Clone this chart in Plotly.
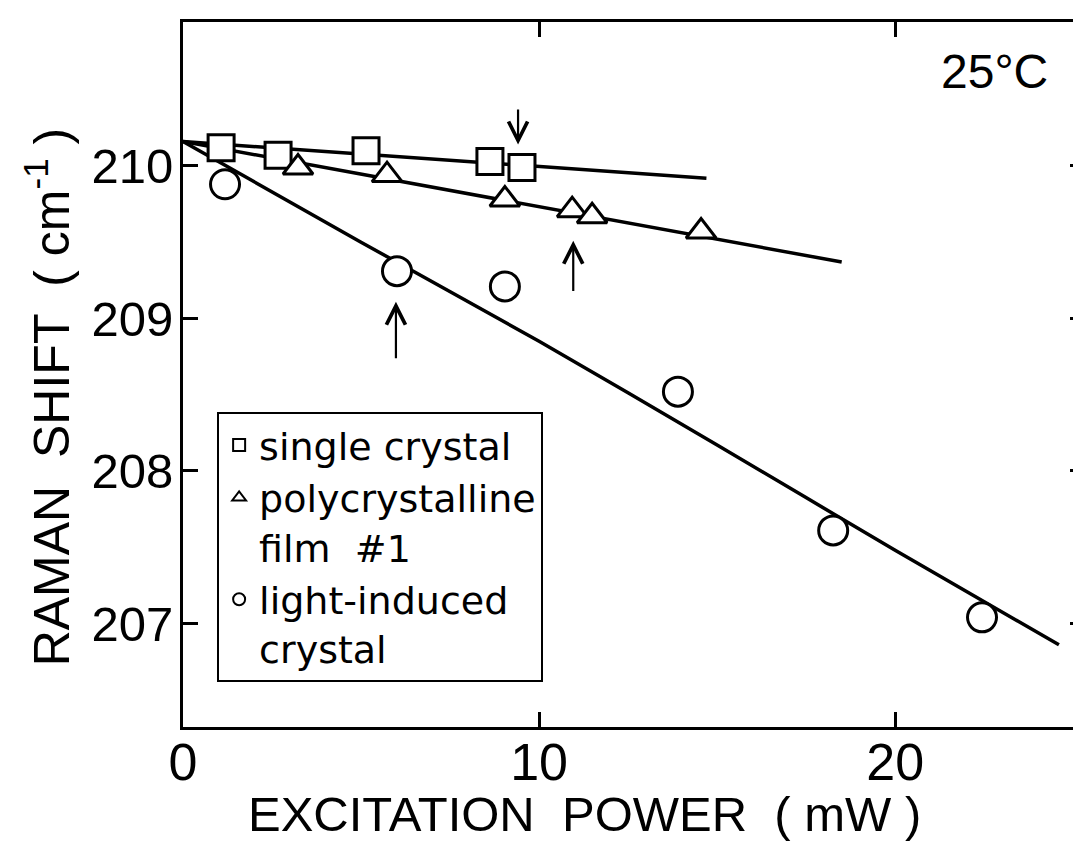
import plotly.graph_objects as go

# excitation power (mW) and Raman shift (cm-1)
single_x = [1.07, 2.67, 5.14, 8.62, 9.52]
single_y = [210.12, 210.07, 210.10, 210.03, 209.99]
poly_x = [3.23, 5.73, 9.04, 10.93, 11.49, 14.55]
poly_y = [209.99, 209.94, 209.78, 209.71, 209.67, 209.57]
light_x = [1.18, 6.01, 9.04, 13.9, 18.26, 22.44]
light_y = [209.88, 209.31, 209.21, 208.52, 207.61, 207.04]

# drawn trend lines
single_fit_x = [0, 14.7]
single_fit_y = [210.16, 209.92]
poly_fit_x = [0, 18.5]
poly_fit_y = [210.16, 209.37]
light_fit_x = [0, 5, 10, 15, 20, 24.6]
light_fit_y = [210.16, 209.50, 208.85, 208.17, 207.48, 206.86]

# arrows marking points (x, tip, tail)
arrow_x = [9.41, 10.96, 5.98]
arrow_tip = [210.14, 209.51, 209.11]
arrow_tail = [210.38, 209.17, 208.73]

x_ticks = [0, 10, 20]
y_ticks = [207, 208, 209, 210]

FONT = "Liberation Sans"
LEG_FONT = "DejaVu Sans"

fig = go.Figure()

for fx, fy in [(single_fit_x, single_fit_y), (poly_fit_x, poly_fit_y)]:
    fig.add_trace(go.Scatter(x=fx, y=fy, mode="lines", showlegend=False,
                             line=dict(color="black", width=3.5),
                             hoverinfo="skip"))
fig.add_trace(go.Scatter(x=light_fit_x, y=light_fit_y, mode="lines",
                         showlegend=False, hoverinfo="skip",
                         line=dict(color="black", width=3.5, shape="spline",
                                   smoothing=0.8)))

series = [
    ("single crystal", single_x, single_y, "square", 26),
    ("polycrystalline<br>film  #1", poly_x, poly_y, "triangle-up", 26),
    ("light-induced<br>crystal", light_x, light_y, "circle", 29),
]
for name, xs, ys, sym, size in series:
    fig.add_trace(go.Scatter(
        x=xs, y=ys, mode="markers", name=name,
        marker=dict(symbol=sym, size=size, color="white",
                    line=dict(color="black", width=3)),
    ))

# empty trace so the right-hand tick axis is drawn
fig.add_trace(go.Scatter(x=[], y=[], yaxis="y2", showlegend=False))

for ax_x, tip, tail in zip(arrow_x, arrow_tip, arrow_tail):
    fig.add_annotation(x=ax_x, y=tip, ax=ax_x, ay=tail, xref="x", yref="y",
                       axref="x", ayref="y", text="", showarrow=True,
                       arrowhead=5, arrowsize=1.7, arrowwidth=2.2,
                       arrowcolor="black")

fig.add_annotation(x=22.8, y=210.62, xref="x", yref="y", text="25°C",
                   showarrow=False, font=dict(family=FONT, size=48))

# axis titles
fig.add_annotation(x=0.447, y=-0.123, xref="paper", yref="paper",
                   text="EXCITATION  POWER  ( mW )", showarrow=False,
                   xanchor="center", yanchor="middle",
                   font=dict(family=FONT, size=49))
fig.add_annotation(x=-0.15, y=0.468, xref="paper", yref="paper",
                   text="RAMAN  SHIFT  ( cm<sup>-1</sup> )", showarrow=False,
                   textangle=-90, xanchor="center", yanchor="middle",
                   font=dict(family=FONT, size=50))

# the page body adds an 8px offset, so margins are shifted to compensate
fig.update_layout(
    width=1081, height=843,
    margin=dict(l=175, r=8, t=14, b=124),
    plot_bgcolor="white", paper_bgcolor="white",
    font=dict(family=FONT, color="black"),
    xaxis=dict(
        range=[0, 25.22], tickvals=x_ticks, ticks="inside", ticklen=15,
        tickwidth=3, tickcolor="black", showline=True, linewidth=3,
        linecolor="black", mirror="ticks", showgrid=False, zeroline=False,
        tickfont=dict(family=FONT, size=52), ticklabelstandoff=-12,
        automargin=False,
    ),
    yaxis=dict(
        range=[206.321, 210.944], tickvals=y_ticks, ticks="inside",
        ticklen=15, tickwidth=3, tickcolor="black", showline=True,
        linewidth=3, linecolor="black", showgrid=False, zeroline=False,
        tickfont=dict(family=FONT, size=49), ticklabelstandoff=-3,
        automargin=False,
    ),
    yaxis2=dict(
        range=[206.321, 210.944], tickvals=y_ticks, ticks="inside",
        ticklen=11, tickwidth=3, tickcolor="black", overlaying="y",
        side="right", showline=False, showgrid=False, zeroline=False,
        showticklabels=False, automargin=False,
    ),
    legend=dict(
        x=0.038, y=0.447, xanchor="left", yanchor="top",
        bordercolor="black", borderwidth=2, bgcolor="white",
        font=dict(family=LEG_FONT, size=38, color="black"),
        valign="top", tracegroupgap=0, itemsizing="constant",
    ),
    showlegend=True,
)

fig.write_html("out.html")
